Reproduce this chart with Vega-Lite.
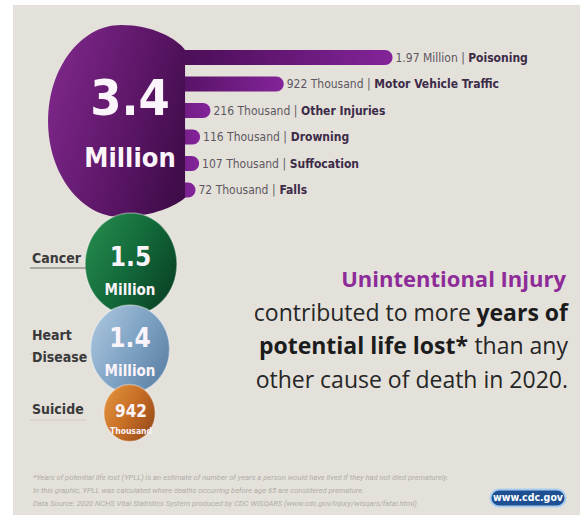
{
  "$schema": "https://vega.github.io/schema/vega-lite/v6.json",
  "width": 567,
  "height": 510,
  "autosize": "none",
  "padding": {"left": 13, "top": 5, "right": 4, "bottom": 10},
  "background": "#ffffff",
  "config": {
    "view": {"stroke": null, "fill": "#e4e1db"},
    "axis": {"disable": true},
    "legend": {"disable": true}
  },
  "datasets": {
    "injury": [
      {"cause": "Poisoning", "value": 1970, "label": "1.97 Million |"},
      {"cause": "Motor Vehicle Traffic", "value": 922, "label": "922 Thousand |"},
      {"cause": "Other Injuries", "value": 216, "label": "216 Thousand |"},
      {"cause": "Drowning", "value": 116, "label": "116 Thousand |"},
      {"cause": "Suffocation", "value": 107, "label": "107 Thousand |"},
      {"cause": "Falls", "value": 72, "label": "72 Thousand |"}
    ],
    "leading": [
      {"rank": 1, "cause": "Unintentional Injury", "value": 3.4, "number": "3.4", "unit": "Million"},
      {"rank": 2, "cause": "Cancer", "value": 1.5, "number": "1.5", "unit": "Million"},
      {"rank": 3, "cause": "Heart Disease", "value": 1.4, "number": "1.4", "unit": "Million"},
      {"rank": 4, "cause": "Suicide", "value": 0.942, "number": "942", "unit": "Thousand"}
    ],
    "statement": [
      {"line": 1, "text": "Unintentional Injury"},
      {"line": 2, "text": "contributed to more"},
      {"line": 2, "text": "years of"},
      {"line": 3, "text": "potential life lost*"},
      {"line": 3, "text": "than any"},
      {"line": 4, "text": "other cause of death in 2020."}
    ],
    "footnote": [
      {"line": 1, "text": "*Years of potential life lost (YPLL) is an estimate of number of years a person would have lived if they had not died prematurely."},
      {"line": 2, "text": "In this graphic, YPLL was calculated where deaths occurring before age 65 are considered premature."},
      {"line": 3, "text": "Data Source: 2020 NCHS Vital Statistics System produced by CDC WISQARS (www.cdc.gov/injury/wisqars/fatal.html)"}
    ],
    "badge": [{"site": "www.cdc.gov"}]
  },
  "layer": [
    {
      "data": {"name": "injury"},
      "mark": {
        "type": "bar",
        "cornerRadiusTopRight": 7.5,
        "cornerRadiusBottomRight": 7.5,
        "fill": {"gradient": "linear", "x1": 0, "y1": 0, "x2": 1, "y2": 0,
          "stops": [{"offset": 0, "color": "#3a0a42"}, {"offset": 0.45, "color": "#561264"}, {"offset": 1, "color": "#84249a"}]}
      },
      "encoding": {
        "y": {"field": "cause", "type": "nominal", "sort": null, "scale": {"range": [39.25, 198.25], "paddingInner": 0.434, "paddingOuter": 0.217}},
        "x": {"field": "value", "type": "quantitative", "scale": {"domain": [0, 1970], "range": [175, 379.5], "nice": false, "zero": false}},
        "x2": {"datum": -900}
      }
    },
    {
      "data": {"name": "injury"},
      "mark": {"type": "text", "align": "left", "baseline": "middle", "dx": 3, "font": "DejaVu Sans Condensed", "fontSize": 12, "color": "#5d5860"},
      "encoding": {
        "y": {"field": "cause", "type": "nominal", "sort": null, "scale": {"range": [39.25, 198.25], "paddingInner": 0.434, "paddingOuter": 0.217}},
        "x": {"field": "value", "type": "quantitative", "scale": {"domain": [0, 1970], "range": [175, 379.5], "nice": false, "zero": false}},
        "text": {"field": "label"}
      }
    },
    {
      "data": {"name": "injury"},
      "transform": [
        {"calculate": "datum.value + (7 + 12*(0.56*length(datum.label) - 0.29*(length(datum.label) - length(replace(datum.label, regexp('[.il |]','g'), ''))) + 0.2*(length(datum.label) - length(replace(datum.label, regexp('M','g'), ''))))) * 9.633", "as": "nameX"}
      ],
      "mark": {"type": "text", "align": "left", "baseline": "middle", "font": "DejaVu Sans Condensed", "fontWeight": "bold", "fontSize": 12, "color": "#3c2b47"},
      "encoding": {
        "y": {"field": "cause", "type": "nominal", "sort": null, "scale": {"range": [39.25, 198.25], "paddingInner": 0.434, "paddingOuter": 0.217}},
        "x": {"field": "nameX", "type": "quantitative", "scale": {"domain": [0, 1970], "range": [175, 379.5], "nice": false, "zero": false}},
        "text": {"field": "cause"}
      }
    },
    {
      "data": {"name": "leading"},
      "transform": [{"filter": "datum.rank == 1"}],
      "mark": {
        "type": "point", "filled": true, "opacity": 1, "strokeWidth": 0,
        "shape": "M0,-1 C-0.42,-1 -0.76,-0.55 -0.76,0 C-0.76,0.55 -0.42,1 0,1 C0.33,1 0.58,0.88 0.667,0.8 L0.667,-0.74 C0.58,-0.86 0.33,-1 0,-1 Z",
        "fill": {"gradient": "linear", "x1": 0, "y1": 0.3, "x2": 1, "y2": 0.7,
          "stops": [{"offset": 0, "color": "#7d2789"}, {"offset": 0.55, "color": "#5e1769"}, {"offset": 1, "color": "#400c4a"}]}
      },
      "encoding": {
        "x": {"field": "rank", "type": "quantitative", "scale": {"domain": [1, 2, 3, 4], "range": [108, 118, 117, 116.5], "nice": false}},
        "y": {"field": "rank", "type": "quantitative", "scale": {"domain": [1, 2, 3, 4], "range": [116, 259, 344, 408], "nice": false}},
        "size": {"field": "value", "type": "quantitative", "scale": {"domain": [0.942, 1.4, 1.5, 3.4], "range": [3249, 7744, 10404, 36864], "nice": false}}
      }
    },
    {
      "data": {"name": "leading"},
      "transform": [{"filter": "datum.rank == 2"}],
      "mark": {
        "type": "point", "filled": true, "opacity": 1, "stroke": "#ffffff", "strokeOpacity": 0.35, "strokeWidth": 1.5,
        "shape": "M0,-1 C-0.497,-1 -0.9,-0.552 -0.9,0 C-0.9,0.552 -0.497,1 0,1 C0.497,1 0.9,0.552 0.9,0 C0.9,-0.552 0.497,-1 0,-1 Z",
        "fill": {"gradient": "linear", "x1": 0, "y1": 0.2, "x2": 1, "y2": 0.8,
          "stops": [{"offset": 0, "color": "#25894c"}, {"offset": 0.5, "color": "#12693a"}, {"offset": 1, "color": "#0a4023"}]}
      },
      "encoding": {
        "x": {"field": "rank", "type": "quantitative", "scale": {"domain": [1, 2, 3, 4], "range": [108, 118, 117, 116.5], "nice": false}},
        "y": {"field": "rank", "type": "quantitative", "scale": {"domain": [1, 2, 3, 4], "range": [116, 259, 344, 408], "nice": false}},
        "size": {"field": "value", "type": "quantitative", "scale": {"domain": [0.942, 1.4, 1.5, 3.4], "range": [3249, 7744, 10404, 36864], "nice": false}}
      }
    },
    {
      "data": {"name": "leading"},
      "transform": [{"filter": "datum.rank == 3"}],
      "mark": {
        "type": "point", "filled": true, "opacity": 1, "stroke": "#ffffff", "strokeOpacity": 0.4, "strokeWidth": 1.5,
        "shape": "M0,-1 C-0.497,-1 -0.9,-0.552 -0.9,0 C-0.9,0.552 -0.497,1 0,1 C0.497,1 0.9,0.552 0.9,0 C0.9,-0.552 0.497,-1 0,-1 Z",
        "fill": {"gradient": "linear", "x1": 0, "y1": 0.2, "x2": 1, "y2": 0.8,
          "stops": [{"offset": 0, "color": "#a9c4dc"}, {"offset": 0.5, "color": "#7fa3c4"}, {"offset": 1, "color": "#5a80a4"}]}
      },
      "encoding": {
        "x": {"field": "rank", "type": "quantitative", "scale": {"domain": [1, 2, 3, 4], "range": [108, 118, 117, 116.5], "nice": false}},
        "y": {"field": "rank", "type": "quantitative", "scale": {"domain": [1, 2, 3, 4], "range": [116, 259, 344, 408], "nice": false}},
        "size": {"field": "value", "type": "quantitative", "scale": {"domain": [0.942, 1.4, 1.5, 3.4], "range": [3249, 7744, 10404, 36864], "nice": false}}
      }
    },
    {
      "data": {"name": "leading"},
      "transform": [{"filter": "datum.rank == 4"}],
      "mark": {
        "type": "point", "filled": true, "opacity": 1, "stroke": "#ffffff", "strokeOpacity": 0.35, "strokeWidth": 1.5,
        "shape": "M0,-1 C-0.497,-1 -0.9,-0.552 -0.9,0 C-0.9,0.552 -0.497,1 0,1 C0.497,1 0.9,0.552 0.9,0 C0.9,-0.552 0.497,-1 0,-1 Z",
        "fill": {"gradient": "linear", "x1": 0, "y1": 0.2, "x2": 1, "y2": 0.8,
          "stops": [{"offset": 0, "color": "#e0913d"}, {"offset": 0.5, "color": "#c66e25"}, {"offset": 1, "color": "#97491a"}]}
      },
      "encoding": {
        "x": {"field": "rank", "type": "quantitative", "scale": {"domain": [1, 2, 3, 4], "range": [108, 118, 117, 116.5], "nice": false}},
        "y": {"field": "rank", "type": "quantitative", "scale": {"domain": [1, 2, 3, 4], "range": [116, 259, 344, 408], "nice": false}},
        "size": {"field": "value", "type": "quantitative", "scale": {"domain": [0.942, 1.4, 1.5, 3.4], "range": [3249, 7744, 10404, 36864], "nice": false}}
      }
    },
    {
      "data": {"name": "leading"},
      "mark": {"type": "text", "align": "center", "baseline": "middle", "font": "DejaVu Sans Condensed", "fontWeight": "bold", "color": "#fbf4fb"},
      "encoding": {
        "x": {"field": "rank", "type": "quantitative", "scale": {"domain": [1, 2, 3, 4], "range": [117, 117.5, 117, 118], "nice": false}},
        "y": {"field": "rank", "type": "quantitative", "scale": {"domain": [1, 2, 3, 4], "range": [95, 253, 334, 407], "nice": false}},
        "size": {"field": "value", "type": "quantitative", "scale": {"domain": [0.942, 1.4, 1.5, 3.4], "range": [17, 26, 26, 50], "nice": false}},
        "text": {"field": "number"}
      }
    },
    {
      "data": {"name": "leading"},
      "mark": {"type": "text", "align": "center", "baseline": "middle", "font": "DejaVu Sans Condensed", "fontWeight": "bold", "color": "#fbf4fb"},
      "encoding": {
        "x": {"field": "rank", "type": "quantitative", "scale": {"domain": [1, 2, 3, 4], "range": [117, 117, 117, 118], "nice": false}},
        "y": {"field": "rank", "type": "quantitative", "scale": {"domain": [1, 2, 3, 4], "range": [154, 285, 366, 426], "nice": false}},
        "size": {"field": "value", "type": "quantitative", "scale": {"domain": [0.942, 1.4, 1.5, 3.4], "range": [8.5, 15, 15, 27], "nice": false}},
        "text": {"field": "unit"}
      }
    },
    {
      "data": {"name": "leading"},
      "transform": [{"filter": "datum.rank > 1"}],
      "mark": {"type": "rule", "strokeWidth": 1},
      "encoding": {
        "x": {"datum": 3.0, "type": "quantitative", "scale": {"domain": [0, 100], "range": [0, 567]}},
        "x2": {"datum": 12.9},
        "y": {"field": "rank", "type": "quantitative", "scale": {"domain": [2, 3, 4], "range": [263, 349, 415], "nice": false}},
        "color": {"condition": {"test": "datum.rank == 2", "value": "#6e6a64"}, "value": "#cfcac3"}
      }
    },
    {
      "data": {"name": "leading"},
      "transform": [{"filter": "datum.rank > 1"}],
      "mark": {"type": "text", "align": "left", "baseline": "middle", "font": "DejaVu Sans Condensed", "fontWeight": "bold", "fontSize": 14, "lineBreak": " ", "lineHeight": 22, "color": "#3a3a3a"},
      "encoding": {
        "x": {"datum": 3.35, "type": "quantitative", "scale": {"domain": [0, 100], "range": [0, 567]}},
        "y": {"field": "rank", "type": "quantitative", "scale": {"domain": [2, 3, 4], "range": [254, 330.5, 405], "nice": false}},
        "text": {"field": "cause"}
      }
    },
    {
      "data": {"name": "statement"},
      "transform": [{"filter": "datum.line == 1"}],
      "mark": {"type": "text", "align": "right", "baseline": "alphabetic", "dx": -2, "font": "Open Sans", "fontWeight": "bold", "fontSize": 22, "color": "#8d2c98"},
      "encoding": {
        "x": {"datum": 97.88, "type": "quantitative", "scale": {"domain": [0, 100], "range": [0, 567]}},
        "y": {"field": "line", "type": "quantitative", "scale": {"domain": [1, 4], "range": [282, 383], "nice": false}},
        "text": {"field": "text"}
      }
    },
    {
      "data": {"name": "statement"},
      "transform": [{"filter": "datum.text == 'years of'"}],
      "mark": {"type": "text", "align": "right", "baseline": "alphabetic", "font": "Open Sans", "fontWeight": "bold", "fontSize": 23, "color": "#1c1c1c"},
      "encoding": {
        "x": {"datum": 97.88, "type": "quantitative", "scale": {"domain": [0, 100], "range": [0, 567]}},
        "y": {"field": "line", "type": "quantitative", "scale": {"domain": [1, 4], "range": [282, 383], "nice": false}},
        "text": {"field": "text"}
      }
    },
    {
      "data": {"name": "statement"},
      "transform": [{"filter": "datum.text == 'than any' || datum.line == 4"}],
      "mark": {"type": "text", "align": "right", "baseline": "alphabetic", "font": "Open Sans", "fontSize": 23, "color": "#262626"},
      "encoding": {
        "x": {"datum": 97.88, "type": "quantitative", "scale": {"domain": [0, 100], "range": [0, 567]}},
        "y": {"field": "line", "type": "quantitative", "scale": {"domain": [1, 4], "range": [282, 383], "nice": false}},
        "text": {"field": "text"}
      }
    },
    {
      "data": {"name": "statement"},
      "transform": [{"filter": "datum.text == 'contributed to more'"}],
      "mark": {"type": "text", "align": "right", "baseline": "alphabetic", "dx": -97, "font": "Open Sans", "fontSize": 23, "color": "#262626"},
      "encoding": {
        "x": {"datum": 97.88, "type": "quantitative", "scale": {"domain": [0, 100], "range": [0, 567]}},
        "y": {"field": "line", "type": "quantitative", "scale": {"domain": [1, 4], "range": [282, 383], "nice": false}},
        "text": {"field": "text"}
      }
    },
    {
      "data": {"name": "statement"},
      "transform": [{"filter": "datum.text == 'potential life lost*'"}],
      "mark": {"type": "text", "align": "right", "baseline": "alphabetic", "dx": -100, "font": "Open Sans", "fontWeight": "bold", "fontSize": 23, "color": "#1c1c1c"},
      "encoding": {
        "x": {"datum": 97.88, "type": "quantitative", "scale": {"domain": [0, 100], "range": [0, 567]}},
        "y": {"field": "line", "type": "quantitative", "scale": {"domain": [1, 4], "range": [282, 383], "nice": false}},
        "text": {"field": "text"}
      }
    },
    {
      "data": {"name": "footnote"},
      "mark": {"type": "text", "align": "left", "baseline": "middle", "font": "Roboto", "fontStyle": "italic", "fontSize": 7.6, "color": "#b1ada6"},
      "encoding": {
        "x": {"datum": 3.53, "type": "quantitative", "scale": {"domain": [0, 100], "range": [0, 567]}},
        "y": {"field": "line", "type": "quantitative", "scale": {"domain": [1, 3], "range": [473, 499], "nice": false}},
        "text": {"field": "text"}
      }
    },
    {
      "data": {"name": "badge"},
      "mark": {
        "type": "point", "filled": true, "opacity": 1, "size": 5776,
        "shape": "M-0.763,-0.224 L0.763,-0.224 A0.224,0.224 0 0 1 0.763,0.224 L-0.763,0.224 A0.224,0.224 0 0 1 -0.763,-0.224 Z",
        "fill": "#1d4f92", "stroke": "#a8cdef", "strokeWidth": 2
      },
      "encoding": {
        "x": {"datum": 90.83, "type": "quantitative", "scale": {"domain": [0, 100], "range": [0, 567]}},
        "y": {"datum": 96.67, "type": "quantitative", "scale": {"domain": [0, 100], "range": [0, 510]}}
      }
    },
    {
      "data": {"name": "badge"},
      "mark": {"type": "text", "align": "center", "baseline": "middle", "font": "DejaVu Sans Condensed", "fontWeight": "bold", "fontSize": 10.5, "color": "#ffffff"},
      "encoding": {
        "x": {"datum": 90.83, "type": "quantitative", "scale": {"domain": [0, 100], "range": [0, 567]}},
        "y": {"datum": 96.67, "type": "quantitative", "scale": {"domain": [0, 100], "range": [0, 510]}},
        "text": {"field": "site"}
      }
    }
  ],
  "resolve": {"scale": {"x": "independent", "y": "independent", "size": "independent", "color": "independent"}}
}
